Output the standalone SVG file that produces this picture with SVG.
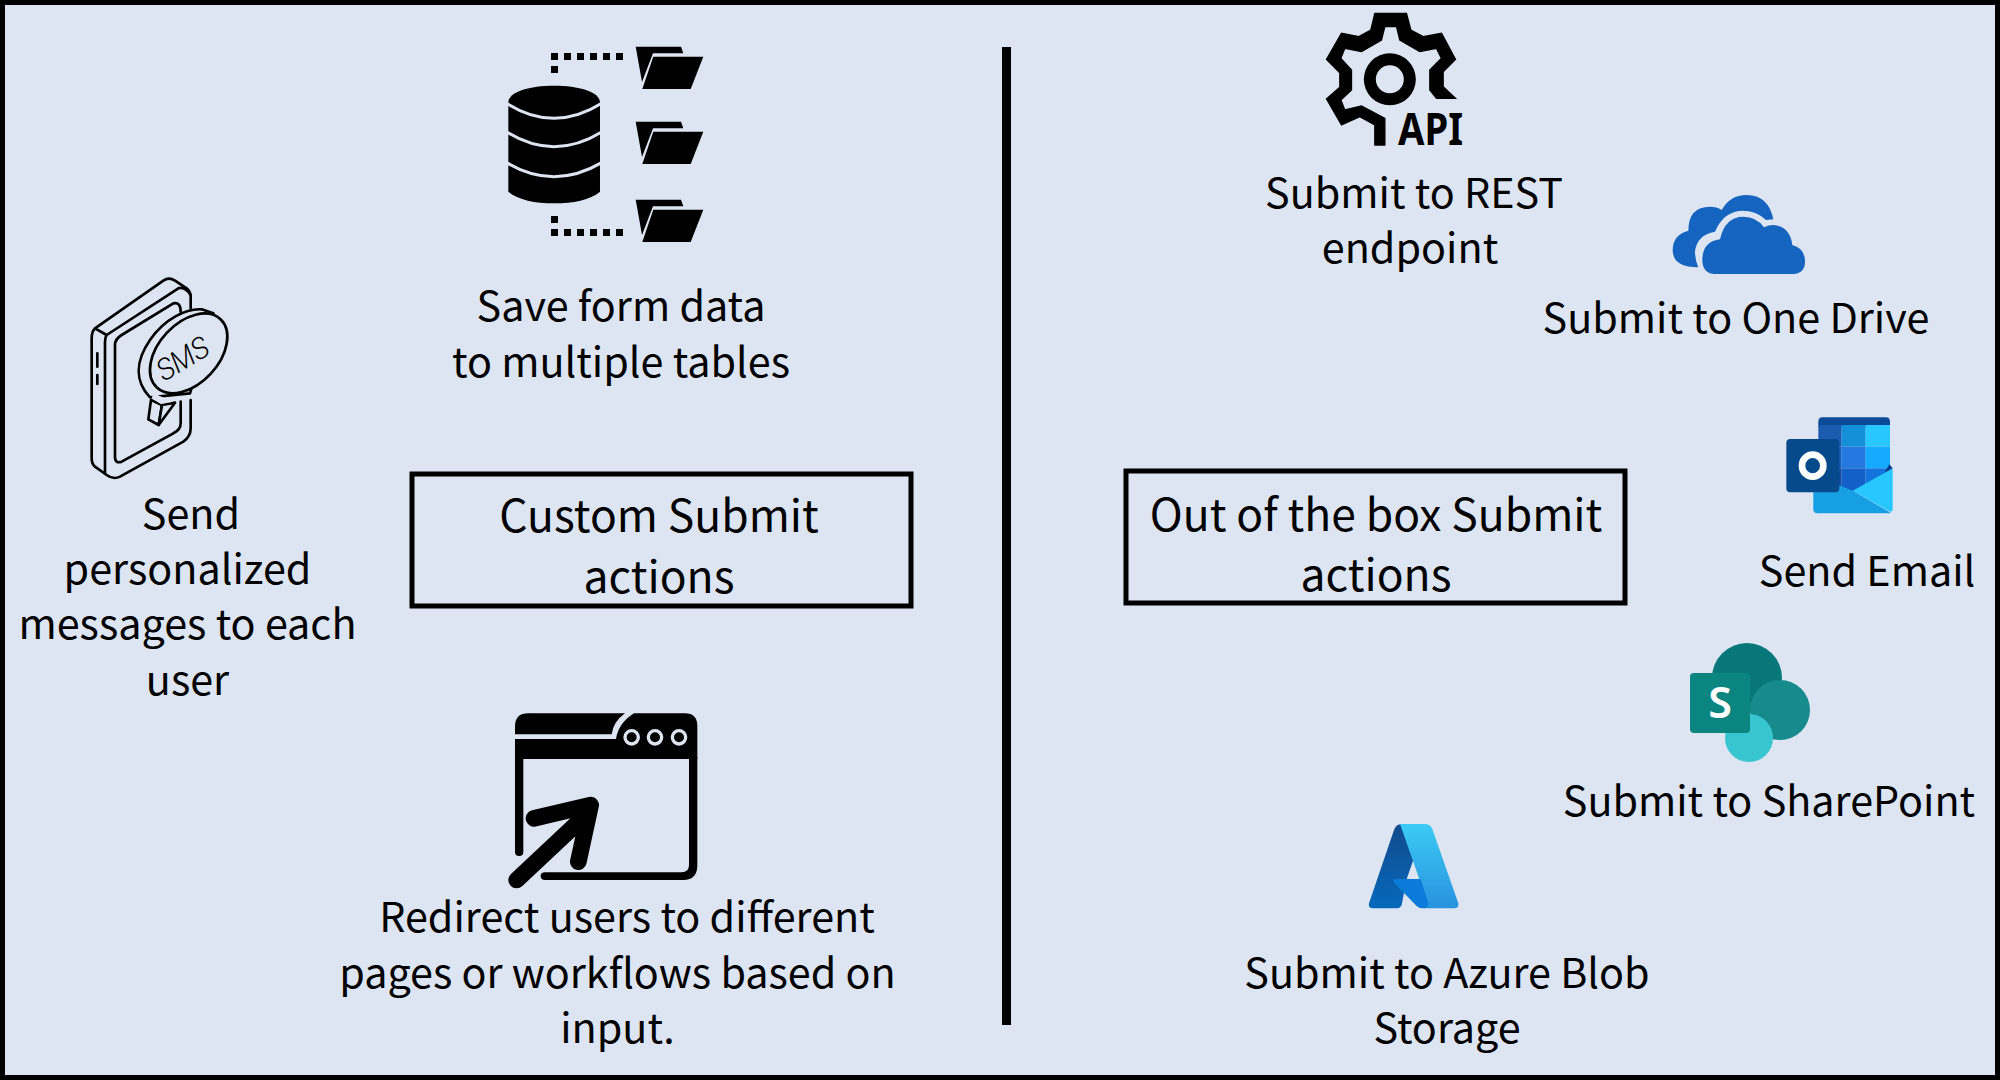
<svg xmlns="http://www.w3.org/2000/svg" width="2000" height="1080" viewBox="0 0 2000 1080">
<style>
text{font-family:"Noto Sans CJK SC","Noto Sans",sans-serif;fill:#000;text-anchor:middle}
.l{font-size:41.300px}
.h{font-size:44.400px}
.box{fill:none;stroke:#000;stroke-width:5}
.sms{fill:#dde5f2;stroke:#000;stroke-width:8;stroke-linejoin:round;stroke-linecap:round}
.nf{fill:none}
.dot{fill:none;stroke:#dde5f2;stroke-width:10}
</style>
<defs>
<g id="folder"><path d="M635.700 46.700H681L683.300 53.300H653L642 82Z"/><path d="M653.300 56.700H703.300L690.700 89H642.300Z"/></g>
<linearGradient id="az1" x1="0" y1="0" x2="0" y2="1"><stop offset="0" stop-color="#114a8b"/><stop offset="1" stop-color="#0669bc"/></linearGradient>
<linearGradient id="az2" x1="0" y1="0" x2="0" y2="1"><stop offset="0" stop-color="#3ccbf4"/><stop offset="1" stop-color="#2892df"/></linearGradient>
</defs>
<rect x="2.500" y="2.500" width="1995" height="1075" fill="#dde5f2" stroke="#000" stroke-width="5"/>
<g id="connectors"><line x1="1006.500" y1="47" x2="1006.500" y2="1025" stroke="#000" stroke-width="9"/></g>
<g id="node-custom"><rect class="box" x="412" y="474" width="499" height="132"/><text class="h" x="659" y="532">Custom Submit</text><text class="h" x="659" y="593">actions</text></g>
<g id="node-ootb"><rect class="box" x="1126" y="471" width="499" height="132"/><text class="h" x="1376" y="530.500">Out of the box Submit</text><text class="h" x="1376" y="590.500">actions</text></g>
<g id="node-tables">
<g transform="translate(480 20) scale(.33333)">
<path d="M85 247C85 215 150 197 222 197C295 197 360 215 360 247V515C330 540 280 550 222 550C165 550 115 540 85 515Z"/>
<path d="M80 250Q222 340 365 250M80 336Q222 424 365 336M80 428Q222 512 365 428" fill="none" stroke="#dde5f2" stroke-width="9"/>
</g>
<path d="M551 53h7v7h-7zM564 53h7v7h-7zM577 53h7v7h-7zM590 53h7v7h-7zM603 53h7v7h-7zM616 53h7v7h-7zM551 66h7v7h-7z"/>
<path d="M551 216h7v7h-7zM551 229h7v7h-7zM564 229h7v7h-7zM577 229h7v7h-7zM590 229h7v7h-7zM603 229h7v7h-7zM616 229h7v7h-7z"/>
<use href="#folder"/><use href="#folder" y="75"/><use href="#folder" y="153"/>
<text class="l" x="621" y="320.500">Save form data</text><text class="l" x="621" y="376.500">to multiple tables</text>
</g>
<g id="node-sms">
<g transform="translate(70 260) scale(.33333)">
<path class="sms nf" d="M75 205L280 62Q297 50 315 62L350 85Q362 95 362 110V145M75 205Q65 215 65 235V595Q65 612 75 620L110 645Q130 660 150 650L340 545Q362 530 362 505V420"/>
<path class="sms nf" d="M75 205L110 225Q105 232 105 245V640M110 225L325 85Q345 78 362 105"/>
<path class="sms nf" d="M332 155Q332 125 310 130L155 225Q135 237 135 255V590Q135 612 155 605L310 520Q332 510 332 490V425"/>
<path class="sms nf" d="M82 280V320M82 345V372"/>
<path class="sms" d="M240 412C195 365 195 305 240 240C285 175 350 145 395 148L430 160L360 400Z"/>
<ellipse class="sms" cx="356" cy="280" rx="140" ry="90" transform="rotate(-47 356 280)"/>
<path class="sms" d="M243 420L276 435L266 495L235 478Z"/>
<path class="sms" d="M276 435L315 428L266 495Z"/>
<path d="M250 400L310 425L272 432L245 415Z" fill="#dde5f2"/>
</g>
<text x="0" y="0" transform="translate(164 382) rotate(-31)" textLength="56" lengthAdjust="spacingAndGlyphs" style="font-family:Roboto,sans-serif;font-weight:300;font-style:italic;font-size:30px;text-anchor:start">SMS</text>
<text class="l" x="191" y="529">Send</text><text class="l" x="187.500" y="584">personalized</text><text class="l" x="187.500" y="639">messages to each</text><text class="l" x="187.500" y="695">user</text>
</g>
<g id="node-redirect">
<g transform="translate(490 700) scale(.33333)">
<path d="M75 103V80Q75 40 115 40H405Q370 65 365 103Z"/>
<path d="M75 117H378Q385 70 432 40H585Q622 40 622 78V177H75Z"/>
<path d="M75 170H100V455Q100 468 87.500 468Q75 468 75 455ZM597 170H622V495Q622 540 580 540H165Q152 540 152 528Q152 517 165 517H575Q597 517 597 495Z"/>
<circle class="dot" cx="425" cy="112" r="20"/><circle class="dot" cx="495" cy="112" r="20"/><circle class="dot" cx="567" cy="112" r="20"/>
<path d="M80 540L272 360M132 355L302 315L265 485" fill="none" stroke="#000" stroke-width="50" stroke-linecap="round" stroke-linejoin="round"/>
</g>
<text class="l" x="627" y="931.500">Redirect users to different</text><text class="l" x="617.500" y="987.500">pages or workflows based on</text><text class="l" x="617.500" y="1042.500">input.</text>
</g>
<g id="node-rest">
<g transform="translate(1301.500 0) scale(.33333)">
<path d="M220 40H315L328 90L365 110L420 100L462 178L425 215V260L462 295H405L385 270V210L420 175L405 145L355 155L295 120L285 80H250L240 120L180 155L130 145L118 175L150 210V270L118 300L130 330L180 318L250 355V435H220V375L175 350L120 375L75 297L115 262V218L75 178L120 100L172 110L208 90Z" stroke="#000" stroke-width="4"/>
<path fill-rule="evenodd" d="M265 160A78 78 0 1 0 265 316A78 78 0 1 0 265 160ZM265 196A42 42 0 1 1 265 280A42 42 0 1 1 265 196Z"/>
</g>
<text x="1398" y="145" textLength="65" lengthAdjust="spacingAndGlyphs" style="font-family:'Noto Sans',sans-serif;font-weight:700;font-size:44px;text-anchor:start">API</text>
<text class="l" x="1414" y="207.500">Submit to REST</text><text class="l" x="1410" y="263">endpoint</text>
</g>
<g id="node-onedrive">
<g transform="translate(1660 180) scale(.33333)" fill="#1565c0">
<path d="M115 262Q38 262 38 210Q38 165 85 152Q85 80 150 80Q170 80 185 90Q210 45 260 45Q325 45 340 118L318 120Q290 92 245 92Q190 95 165 155Q110 165 105 215Q105 240 115 262Z"/>
<path d="M165 282Q127 280 127 240Q127 185 180 178Q195 110 250 110Q290 110 312 142Q325 135 340 135Q390 140 397 195Q435 205 435 245Q435 282 395 282Z"/>
</g>
<text class="l" x="1736" y="332.500">Submit to One Drive</text>
</g>
<g id="node-email">
<g transform="translate(1770 400) scale(.33333)">
<path d="M145 65Q145 52 158 52H347Q360 52 360 65V80H145Z" fill="#0a4a96"/>
<rect x="145" y="75" width="70" height="65" fill="#1c5cb0"/><rect x="215" y="75" width="72" height="65" fill="#1490d8"/><rect x="287" y="75" width="73" height="65" fill="#28c8ff"/>
<rect x="145" y="140" width="70" height="65" fill="#1360c0"/><rect x="215" y="140" width="72" height="65" fill="#2478e0"/><rect x="287" y="140" width="73" height="65" fill="#14aaff"/>
<rect x="145" y="205" width="70" height="70" fill="#144aa0"/><rect x="215" y="205" width="72" height="70" fill="#1260c8"/><rect x="287" y="205" width="73" height="70" fill="#1274dc"/>
<path d="M358 193L368 205L340 225Z" fill="#0a3a8c"/>
<path d="M248 272L368 205V328Q368 335 360 335Z" fill="#28c8ff"/>
<path d="M130 225L248 272L362 338Q360 340 355 340H143Q130 340 130 327Z" fill="#169fe3"/>
<rect x="49" y="117" width="159" height="160" rx="12" fill="#064a8c"/>
<ellipse cx="128" cy="197" rx="32" ry="33" fill="none" stroke="#fff" stroke-width="20"/>
</g>
<text class="l" x="1867" y="586">Send Email</text>
</g>
<g id="node-sharepoint">
<circle cx="1747" cy="678" r="35" fill="#07777a"/><circle cx="1780" cy="710" r="30" fill="#178a8e"/><circle cx="1749" cy="738" r="24" fill="#37c6d0"/>
<rect x="1690" y="673" width="60" height="60" rx="4" fill="#0a8580"/>
<text x="1720" y="718" style="font-family:'Noto Sans',sans-serif;font-weight:600;font-size:43px;fill:#fff">S</text>
<text class="l" x="1769" y="816">Submit to SharePoint</text>
</g>
<g id="node-azure">
<g transform="translate(1350 810) scale(.33333)">
<path d="M155 42Q138 42 132 60L57 280Q53 295 70 295H140Q150 295 155 285L170 207L190 150L170 90Z" fill="url(#az1)"/>
<path d="M150 42H225Q243 42 248 60L325 280Q328 295 312 295H220Q236 290 232 275Z" fill="url(#az2)"/>
<path d="M135 207H212L235 280Q236 295 220 295H215Q208 295 200 288L132 218Q127 210 135 207Z" fill="#0a7bd8"/>
</g>
<text class="l" x="1447" y="988">Submit to Azure Blob</text><text class="l" x="1447" y="1043">Storage</text>
</g>
</svg>
